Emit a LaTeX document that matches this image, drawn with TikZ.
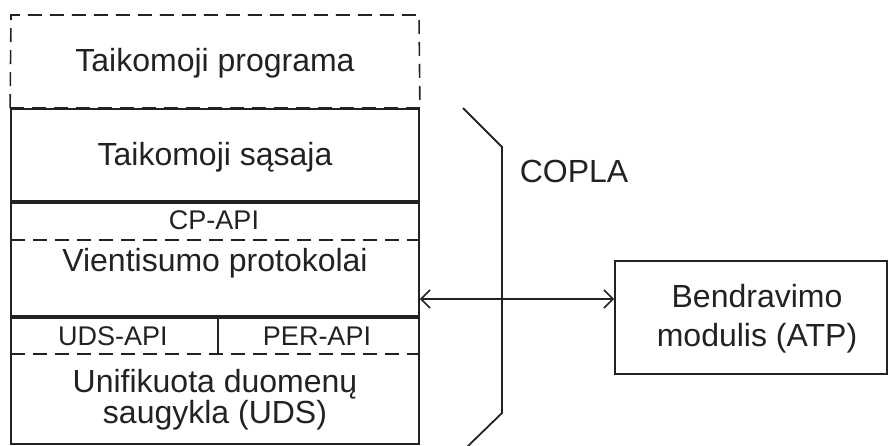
\documentclass[tikz,border=0pt]{standalone}
\usepackage{fontspec}
\setmainfont{Liberation Sans}
\usetikzlibrary{arrows.meta}
\definecolor{ink}{HTML}{222222}
\tikzset{
  outline/.style={draw=ink, line width=1.8pt},
  sep/.style={draw=ink, line width=3.2pt},
  dashsep/.style={draw=ink, line width=1.6pt, dash pattern=on 14pt off 8pt},
  big/.style={text=ink, font=\fontsize{32}{36}\selectfont, inner sep=0pt, anchor=base},
  small/.style={text=ink, font=\fontsize{27}{30}\selectfont, inner sep=0pt, anchor=base},
  arr/.style={draw=ink, line width=1.6pt, {Straight Barb[length=9pt,width=18pt]}-{Straight Barb[length=9pt,width=18pt]}}
}
\begin{document}
\begin{tikzpicture}[x=1pt, y=-1pt]
\useasboundingbox (0,0) rectangle (889,446);

% layered stack (solid part)
\node[outline, rectangle, minimum width=408pt, minimum height=335pt, inner sep=0pt] (stack) at (215,276.5) {};
% application layer on top, dashed frame
\draw[dashsep] (stack.north west) -- (11,15) -- (419,15) -- (stack.north east);
\draw[dashsep] (stack.north west) -- (stack.north east);

% separators inside the stack
\draw[sep] (11,202) -- (419,202);
\draw[dashsep] (11,240) -- (419,240);
\draw[sep] (11,317) -- (419,317);
\draw[outline] (218,317) -- (218,354);
\draw[dashsep] (11,354) -- (419,354);

% layer labels (placed by baseline)
\node[big] (prog) at (215,72) {Taikomoji programa};
\node[big] (sas) at (215,166) {Taikomoji sąsaja};
\node[small] (cpapi) at (214,230) {CP-API};
\node[big] (vient) at (215,272) {Vientisumo protokolai};
\node[small] (udsapi) at (113,345) {UDS-API};
\node[small] (perapi) at (317,345) {PER-API};
\node[big] (uds1) at (215,392) {Unifikuota duomenų};
\node[big] (uds2) at (215,423) {saugykla (UDS)};

% COPLA bracket
\draw[outline] (463,108) -- (502,147) -- (502,413) -- (467,447);
\node[big] (copla) at (574,183) {COPLA};

% communication module
\node[outline, rectangle, minimum width=272pt, minimum height=113pt, inner sep=0pt] (atp) at (751,317.5) {};
\node[big] (atp1) at (757,308) {Bendravimo};
\node[big] (atp2) at (757,347) {modulis (ATP)};

\coordinate (lvl) at (0,299);
\draw[arr] (stack.east |- lvl) -- (atp.west |- lvl);
\end{tikzpicture}
\end{document}
